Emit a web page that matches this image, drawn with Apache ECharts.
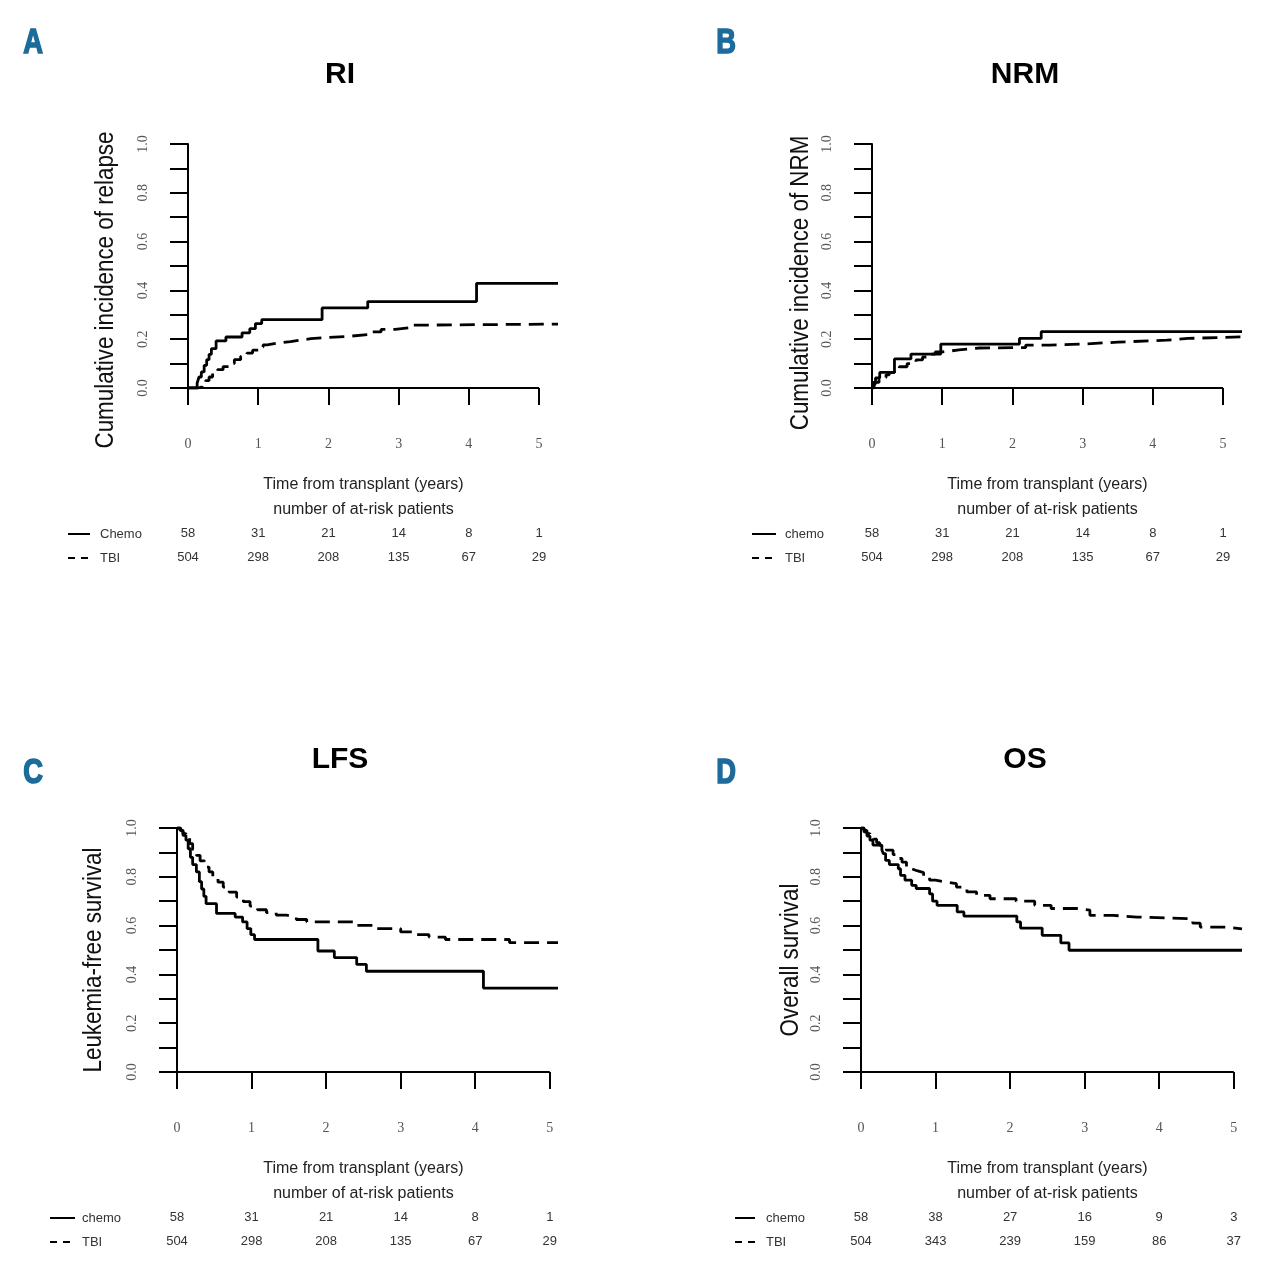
<!DOCTYPE html>
<html>
<head>
<meta charset="utf-8">
<script src="https://cdn.jsdelivr.net/npm/echarts@6/dist/echarts.min.js"></script>
<style>
html,body{margin:0;padding:0;background:#fff;}
#chart{width:1280px;height:1261px;}
</style>
</head>
<body>
<div id="chart"></div>
<script>
// ---------- data ----------
const xTicks = [0, 1, 2, 3, 4, 5];
const yTickLabels = [0, 0.2, 0.4, 0.6, 0.8, 1.0];

// A: Relapse incidence (RI)
const riChemo = [[0,0],[0.13,0.02],[0.157,0.045],[0.19,0.066],[0.23,0.093],[0.266,0.116],[0.30,0.138],[0.333,0.161],[0.40,0.193],[0.54,0.209],[0.77,0.226],[0.88,0.243],[0.96,0.264],[1.05,0.28],[1.91,0.328],[2.56,0.354],[4.11,0.429],[5.27,0.429]];
const riTbi = [[0,0],[0.15,0.005],[0.2,0.015],[0.25,0.03],[0.3,0.045],[0.35,0.06],[0.42,0.075],[0.5,0.088],[0.58,0.1],[0.66,0.116],[0.75,0.13],[0.84,0.143],[0.92,0.155],[1.0,0.168],[1.07,0.177],[1.13,0.185],[1.3,0.19],[1.46,0.196],[1.6,0.202],[1.75,0.207],[1.99,0.212],[2.3,0.22],[2.6,0.23],[2.75,0.24],[2.95,0.248],[3.2,0.258],[3.45,0.262],[5.27,0.262]];

// B: Non-relapse mortality (NRM)
const nrmChemo = [[0,0],[0.02,0.023],[0.05,0.041],[0.11,0.064],[0.32,0.119],[0.555,0.139],[0.98,0.18],[2.1,0.203],[2.41,0.231],[5.27,0.231]];
const nrmTbi = [[0,0],[0.03,0.01],[0.057,0.023],[0.1,0.033],[0.15,0.043],[0.2,0.054],[0.246,0.064],[0.32,0.076],[0.389,0.087],[0.5,0.1],[0.627,0.115],[0.72,0.127],[0.816,0.139],[0.9,0.148],[1.006,0.156],[1.24,0.164],[1.53,0.166],[2.19,0.176],[2.53,0.18],[3.0,0.188],[3.5,0.196],[4.2,0.203],[4.5,0.21],[5.27,0.21]];

// C: Leukemia-free survival (LFS)
const lfsChemo = [[0,1],[0.04,0.99],[0.08,0.97],[0.12,0.95],[0.15,0.915],[0.18,0.88],[0.21,0.85],[0.26,0.82],[0.3,0.78],[0.33,0.75],[0.36,0.72],[0.39,0.69],[0.53,0.65],[0.78,0.635],[0.88,0.615],[0.94,0.588],[0.99,0.563],[1.04,0.543],[1.89,0.496],[2.11,0.469],[2.41,0.441],[2.54,0.413],[4.11,0.344],[5.11,0.344]];
const lfsTbi = [[0,1],[0.05,0.99],[0.08,0.977],[0.12,0.96],[0.17,0.936],[0.21,0.912],[0.26,0.888],[0.31,0.865],[0.37,0.84],[0.43,0.82],[0.48,0.8],[0.55,0.778],[0.62,0.758],[0.7,0.737],[0.8,0.717],[0.89,0.698],[0.98,0.68],[1.08,0.665],[1.2,0.653],[1.33,0.643],[1.47,0.635],[1.6,0.625],[1.74,0.615],[2.36,0.601],[2.63,0.588],[3.0,0.574],[3.2,0.563],[3.38,0.553],[3.6,0.543],[4.46,0.53],[5.11,0.53]];

// D: Overall survival (OS)
const osChemo = [[0,1],[0.04,0.984],[0.08,0.967],[0.12,0.95],[0.16,0.93],[0.28,0.91],[0.3,0.895],[0.33,0.867],[0.38,0.85],[0.5,0.833],[0.53,0.806],[0.59,0.786],[0.68,0.765],[0.74,0.752],[0.92,0.73],[0.96,0.70],[1.02,0.683],[1.29,0.656],[1.38,0.639],[2.09,0.615],[2.14,0.59],[2.43,0.56],[2.68,0.529],[2.79,0.499],[5.11,0.499]];
const osTbi = [[0,1],[0.04,0.99],[0.08,0.977],[0.12,0.965],[0.17,0.954],[0.21,0.94],[0.25,0.929],[0.3,0.918],[0.34,0.909],[0.43,0.891],[0.49,0.875],[0.55,0.86],[0.61,0.833],[0.68,0.825],[0.75,0.817],[0.84,0.8],[0.92,0.786],[1.0,0.78],[1.1,0.772],[1.28,0.758],[1.42,0.738],[1.55,0.724],[1.73,0.71],[2.08,0.70],[2.33,0.683],[2.55,0.67],[2.9,0.663],[3.07,0.642],[3.38,0.635],[3.7,0.628],[4.45,0.61],[4.55,0.594],[4.9,0.587],[5.11,0.587]];

// numbers at risk
const riskChemoRI = [58, 31, 21, 14, 8, 1];
const riskTbiRI = [504, 298, 208, 135, 67, 29];
const riskChemoNRM = [58, 31, 21, 14, 8, 1];
const riskTbiNRM = [504, 298, 208, 135, 67, 29];
const riskChemoLFS = [58, 31, 21, 14, 8, 1];
const riskTbiLFS = [504, 298, 208, 135, 67, 29];
const riskChemoOS = [58, 38, 27, 16, 9, 3];
const riskTbiOS = [504, 343, 239, 159, 86, 37];

// ---------- layout ----------
const SERIF = '"Liberation Serif", "DejaVu Serif", serif';
const SANS = '"Liberation Sans", Arial, sans-serif';
const LETTER_COLOR = '#1c6b9b';

const panels = [
  {letter:'A', title:'RI', yName:'Cumulative incidence of relapse', chemoName:'Chemo',
   chemo:riChemo, tbi:riTbi, riskC:riskChemoRI, riskT:riskTbiRI,
   g:{left:188, top:144, width:370, height:244, xmax:5.27},
   letterPos:[33,43], titlePos:[340,75], yNamePos:[106,290], keyX:[68,90,100]},
  {letter:'B', title:'NRM', yName:'Cumulative incidence of NRM', chemoName:'chemo',
   chemo:nrmChemo, tbi:nrmTbi, riskC:riskChemoNRM, riskT:riskTbiNRM,
   g:{left:872, top:144, width:370, height:244, xmax:5.27},
   letterPos:[726,43], titlePos:[1025,75], yNamePos:[801,283], keyX:[752,776,785]},
  {letter:'C', title:'LFS', yName:'Leukemia-free survival', chemoName:'chemo',
   chemo:lfsChemo, tbi:lfsTbi, riskC:riskChemoLFS, riskT:riskTbiLFS,
   g:{left:177, top:828, width:381, height:244, xmax:5.11},
   letterPos:[33,773], titlePos:[340,760], yNamePos:[94,960], keyX:[50,75,82]},
  {letter:'D', title:'OS', yName:'Overall survival', chemoName:'chemo',
   chemo:osChemo, tbi:osTbi, riskC:riskChemoOS, riskT:riskTbiOS,
   g:{left:861, top:828, width:381, height:244, xmax:5.11},
   letterPos:[726,773], titlePos:[1025,760], yNamePos:[791,960], keyX:[735,755,766]}
];

const grid = [], xAxis = [], yAxis = [], series = [], graphic = [];

panels.forEach((p, i) => {
  const g = p.g;
  grid.push({left:g.left, top:g.top, width:g.width, height:g.height, containLabel:false, outerBoundsMode:'none'});
  xAxis.push({
    type:'value', gridIndex:i, min:0, max:g.xmax,
    axisLine:{show:false},
    axisTick:{show:true, customValues:xTicks, length:17, lineStyle:{color:'#000', width:2}},
    axisLabel:{show:true, customValues:xTicks, margin:49, fontFamily:SERIF, fontSize:14, color:'#555',
      formatter:v => String(v)},
    splitLine:{show:false}
  });
  [[p.riskC, 139], [p.riskT, 163]].forEach(([arr, off]) => {
    xAxis.push({
      type:'value', gridIndex:i, min:0, max:g.xmax, position:'bottom', offset:off,
      axisLine:{show:false}, axisTick:{show:false}, splitLine:{show:false},
      axisLabel:{show:true, customValues:xTicks, margin:0, fontFamily:SANS, fontSize:13, color:'#333',
        formatter:v => String(arr[Math.round(v)])}
    });
  });
  yAxis.push({
    type:'value', gridIndex:i, min:0, max:1, interval:0.1,
    axisLine:{show:true, lineStyle:{color:'#000', width:2}},
    axisTick:{show:true, length:18, lineStyle:{color:'#000', width:2}},
    axisLabel:{show:true, customValues:yTickLabels, rotate:90, margin:38, fontFamily:SERIF, fontSize:14, color:'#555',
      formatter:v => v.toFixed(1)},
    splitLine:{show:false}
  });
  const xIdx = i * 3;
  series.push({
    type:'line', name:p.chemoName, xAxisIndex:xIdx, yAxisIndex:i, data:p.chemo, step:'end',
    showSymbol:false, symbol:'none', lineStyle:{color:'#000', width:2.8, type:'solid'}, z:3,
    markLine:{silent:true, symbol:['none','none'], label:{show:false},
      lineStyle:{color:'#000', width:2, type:'solid'},
      data:[[{coord:[xTicks[0],0]},{coord:[xTicks[xTicks.length-1],0]}]]}
  });
  series.push({
    type:'line', name:'TBI', xAxisIndex:xIdx, yAxisIndex:i, data:p.tbi, step:'end',
    showSymbol:false, symbol:'none', lineStyle:{color:'#000', width:2.8, type:[15,8]}, z:2
  });

  graphic.push({type:'text', x:p.letterPos[0], y:p.letterPos[1], scaleX:0.78,
    style:{text:p.letter, fontFamily:'Liberation Sans', fontWeight:'bold', fontSize:35, fill:LETTER_COLOR,
      stroke:LETTER_COLOR, lineWidth:1.6,
      align:'center', verticalAlign:'middle', textAlign:'center', textVerticalAlign:'middle'}});
  graphic.push({type:'text', x:p.titlePos[0], y:p.titlePos[1],
    style:{text:p.title, font:'bold 30px ' + SANS, fill:'#000', align:'center', verticalAlign:'middle', textAlign:'center', textVerticalAlign:'middle'}});
  graphic.push({type:'text', x:p.yNamePos[0], y:p.yNamePos[1], rotation:Math.PI/2, scaleX:0.86,
    style:{text:p.yName, font:'26px ' + SANS, fill:'#111', align:'center', verticalAlign:'middle', textAlign:'center', textVerticalAlign:'middle'}});
  const cx = g.left + g.width * 5 / g.xmax / 2;
  const base = g.top + g.height;
  graphic.push({type:'text', x:cx, y:base + 97,
    style:{text:'Time from transplant (years)', font:'16px ' + SANS, fill:'#222', align:'center', verticalAlign:'middle', textAlign:'center', textVerticalAlign:'middle'}});
  graphic.push({type:'text', x:cx, y:base + 122,
    style:{text:'number of at-risk patients', font:'16px ' + SANS, fill:'#222', align:'center', verticalAlign:'middle', textAlign:'center', textVerticalAlign:'middle'}});
  const [k1, k2, kt] = p.keyX;
  graphic.push({type:'line', shape:{x1:k1, y1:base + 146, x2:k2, y2:base + 146}, style:{stroke:'#000', lineWidth:2}});
  graphic.push({type:'line', shape:{x1:k1, y1:base + 170, x2:k2, y2:base + 170}, style:{stroke:'#000', lineWidth:2, lineDash:[7,6]}});
  graphic.push({type:'text', x:kt, y:base + 146,
    style:{text:p.chemoName, font:'13px ' + SANS, fill:'#333', align:'left', verticalAlign:'middle', textAlign:'left', textVerticalAlign:'middle'}});
  graphic.push({type:'text', x:kt, y:base + 170,
    style:{text:'TBI', font:'13px ' + SANS, fill:'#333', align:'left', verticalAlign:'middle', textAlign:'left', textVerticalAlign:'middle'}});
});

const chart = echarts.init(document.getElementById('chart'), null, {renderer:'canvas'});
chart.setOption({
  animation:false,
  backgroundColor:'#fff',
  grid, xAxis, yAxis, series, graphic
});
</script>
</body>
</html>
